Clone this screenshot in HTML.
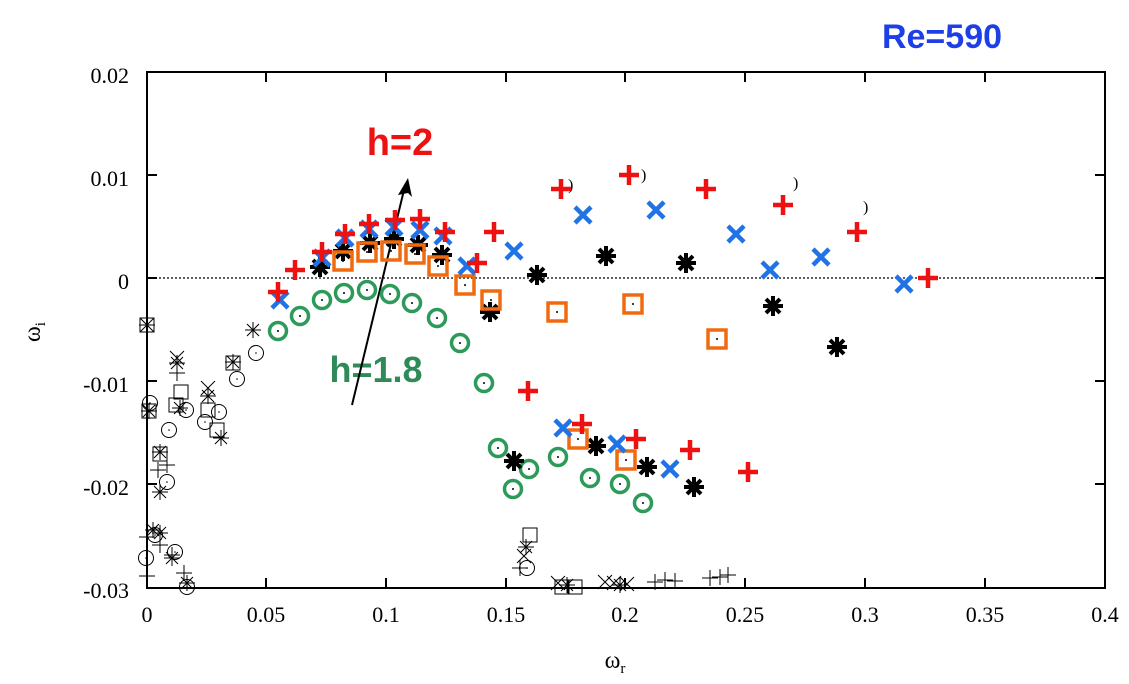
<!DOCTYPE html>
<html><head><style>body{margin:0;background:#fff}svg{display:block}</style></head><body>
<svg width="1129" height="684" xmlns="http://www.w3.org/2000/svg" font-family="Liberation Sans, sans-serif">
<defs>
<g id="rp"><path d="M-10 0H10M0 -10V10" stroke="#ee1111" stroke-width="4.5"/></g>
<g id="bx"><path d="M-8 -8L8 8M-8 8L8 -8" stroke="#1f73e6" stroke-width="4.5"/></g>
<g id="ka"><path d="M-10 0H10M0 -10V10M-7 -7L7 7M-7 7L7 -7" stroke="#000" stroke-width="4"/></g>
<g id="os"><rect x="-9" y="-9" width="18" height="18" fill="none" stroke="#f06a10" stroke-width="3.5"/><circle r="1" fill="#000"/></g>
<g id="gc"><circle r="8.5" fill="none" stroke="#2e9a5a" stroke-width="3.5"/><circle r="1" fill="#000"/></g>
<g id="tp"><path d="M-8 0H8M0 -8V8" stroke="#000" stroke-width="1"/></g>
<g id="tx"><path d="M-7 -7L7 7M-7 7L7 -7" stroke="#000" stroke-width="1"/></g>
<g id="ta"><path d="M-8 0H8M0 -8V8M-6 -6L6 6M-6 6L6 -6" stroke="#000" stroke-width="1"/></g>
<g id="ts"><rect x="-7" y="-7" width="14" height="14" fill="none" stroke="#000" stroke-width="1"/></g>
<g id="tc"><circle r="7.5" fill="none" stroke="#000" stroke-width="1"/><circle r="0.8" fill="#000"/></g>
</defs>
<line x1="147" y1="278" x2="1105" y2="278" stroke="#000" stroke-width="1.2" stroke-dasharray="2,2"/>
<rect x="147" y="72" width="958" height="516" fill="none" stroke="#000" stroke-width="2"/>
<g stroke="#000" stroke-width="2">
<path d="M147 175h10M147 278h10M147 381h10M147 484h10M1105 175h-10M1105 278h-10M1105 381h-10M1105 484h-10"/>
<path d="M266 588v-10M386 588v-10M506 588v-10M625 588v-10M745 588v-10M865 588v-10M985 588v-10M266 72v10M386 72v10M506 72v10M625 72v10M745 72v10M865 72v10M985 72v10"/>
</g>
<g font-size="22" fill="#000" text-anchor="end" font-family="Liberation Serif, serif">
<text x="129" y="83">0.02</text><text x="129" y="186">0.01</text><text x="129" y="289">0</text><text x="129" y="392">-0.01</text><text x="129" y="495">-0.02</text><text x="129" y="598">-0.03</text>
</g>
<g font-size="22" fill="#000" text-anchor="middle" font-family="Liberation Serif, serif">
<text x="147" y="622">0</text><text x="266" y="622">0.05</text><text x="386" y="622">0.1</text><text x="506" y="622">0.15</text><text x="625" y="622">0.2</text><text x="745" y="622">0.25</text><text x="865" y="622">0.3</text><text x="985" y="622">0.35</text><text x="1105" y="622">0.4</text>
</g>
<text x="615" y="668" font-size="24" text-anchor="middle" font-family="Liberation Serif, serif">ω<tspan font-size="15" dy="5">r</tspan></text>
<text transform="translate(40,332) rotate(-90)" font-size="24" text-anchor="middle" font-family="Liberation Serif, serif">ω<tspan font-size="15" dy="5">i</tspan></text>
<text x="942" y="48" font-size="34" font-weight="bold" fill="#1f3fe6" text-anchor="middle">Re=590</text>
<text x="400" y="155" font-size="38" font-weight="bold" fill="#ee1111" text-anchor="middle">h=2</text>
<text x="376" y="382" font-size="36" font-weight="bold" fill="#2e8b57" text-anchor="middle">h=1.8</text>
<line x1="352" y1="405" x2="404" y2="190" stroke="#000" stroke-width="2"/>
<path d="M408 178L398 195L408 193L412 197Z" fill="#000"/>
<g font-size="16" font-family="Liberation Serif, serif"><text x="568" y="190">)</text><text x="641" y="180">)</text><text x="793" y="188">)</text><text x="863" y="212">)</text></g>
<g>
<use href="#ts" x="147" y="325"/><use href="#tx" x="147" y="325"/><use href="#tp" x="147" y="325"/>
<use href="#ta" x="177" y="363"/><use href="#tx" x="177" y="358"/><use href="#tp" x="177" y="373"/>
<use href="#ts" x="181" y="392"/><use href="#ts" x="176" y="405"/><use href="#ta" x="180" y="408"/><use href="#tc" x="186" y="410"/>
<use href="#ts" x="149" y="411"/><use href="#ta" x="149" y="411"/><use href="#tc" x="150" y="403"/>
<use href="#tc" x="169" y="430"/><use href="#ts" x="160" y="454"/><use href="#ta" x="160" y="452"/><use href="#tp" x="158" y="470"/>
<use href="#tc" x="167" y="482"/><use href="#ta" x="160" y="492"/><use href="#tp" x="167" y="465"/>
<use href="#ts" x="208" y="410"/><use href="#ta" x="208" y="396"/><use href="#tx" x="208" y="388"/><use href="#tc" x="219" y="412"/><use href="#tc" x="205" y="422"/>
<use href="#ts" x="217" y="430"/><use href="#ta" x="221" y="438"/>
<use href="#ts" x="233" y="363"/><use href="#ta" x="233" y="362"/><use href="#tc" x="237" y="379"/>
<use href="#ta" x="253" y="330"/><use href="#tc" x="256" y="353"/>
<use href="#ta" x="153" y="530"/><use href="#tp" x="147" y="537"/><use href="#tc" x="155" y="535"/><use href="#ta" x="160" y="533"/><use href="#tp" x="160" y="545"/>
<use href="#tc" x="146" y="558"/><use href="#tp" x="147" y="576"/>
<use href="#tc" x="175" y="552"/><use href="#ta" x="172" y="558"/><use href="#tp" x="172" y="555"/>
<use href="#tp" x="184" y="573"/><use href="#ta" x="187" y="583"/><use href="#tc" x="187" y="587"/>
<use href="#ts" x="530" y="535"/><use href="#ta" x="526" y="547"/><use href="#tx" x="524" y="556"/><use href="#tc" x="527" y="568"/><use href="#tp" x="520" y="568"/>
<use href="#ts" x="562" y="587"/><use href="#ta" x="567" y="585"/><use href="#ts" x="575" y="587"/><use href="#tx" x="558" y="583"/>
<use href="#tx" x="605" y="582"/><use href="#tx" x="614" y="583"/><use href="#ta" x="620" y="585"/><use href="#tx" x="627" y="584"/>
<use href="#tp" x="655" y="582"/><use href="#tp" x="665" y="580"/><use href="#tp" x="675" y="581"/>
<use href="#tp" x="710" y="578"/><use href="#tp" x="720" y="577"/><use href="#tp" x="728" y="575"/>
</g>
<g>
<use href="#gc" x="278" y="331"/><use href="#gc" x="300" y="316"/><use href="#gc" x="322" y="300"/><use href="#gc" x="344" y="293"/><use href="#gc" x="367" y="290"/><use href="#gc" x="390" y="294"/><use href="#gc" x="412" y="303"/><use href="#gc" x="437" y="318"/><use href="#gc" x="460" y="343"/><use href="#gc" x="484" y="383"/><use href="#gc" x="498" y="448"/><use href="#gc" x="513" y="489"/><use href="#gc" x="529" y="469"/><use href="#gc" x="558" y="457"/><use href="#gc" x="590" y="478"/><use href="#gc" x="620" y="484"/><use href="#gc" x="643" y="503"/>
</g>
<g>
<use href="#ka" x="320" y="267"/><use href="#ka" x="343" y="251"/><use href="#ka" x="370" y="243"/><use href="#ka" x="394" y="239"/><use href="#ka" x="418" y="245"/><use href="#ka" x="442" y="255"/><use href="#ka" x="490" y="312"/><use href="#ka" x="514" y="461"/><use href="#ka" x="537" y="275"/><use href="#ka" x="596" y="446"/><use href="#ka" x="606" y="256"/><use href="#ka" x="647" y="467"/><use href="#ka" x="686" y="263"/><use href="#ka" x="694" y="487"/><use href="#ka" x="773" y="306"/><use href="#ka" x="837" y="347"/>
</g>
<g>
<use href="#os" x="343" y="261"/><use href="#os" x="367" y="252"/><use href="#os" x="391" y="251"/><use href="#os" x="415" y="254"/><use href="#os" x="438" y="266"/><use href="#os" x="465" y="285"/><use href="#os" x="491" y="300"/><use href="#os" x="557" y="312"/><use href="#os" x="578" y="439"/><use href="#os" x="633" y="304"/><use href="#os" x="626" y="460"/><use href="#os" x="717" y="339"/>
</g>
<g>
<use href="#bx" x="280" y="300"/><use href="#bx" x="322" y="258"/><use href="#bx" x="345" y="238"/><use href="#bx" x="369" y="229"/><use href="#bx" x="394" y="227"/><use href="#bx" x="420" y="230"/><use href="#bx" x="443" y="236"/><use href="#bx" x="467" y="266"/><use href="#bx" x="514" y="251"/><use href="#bx" x="583" y="215"/><use href="#bx" x="563" y="428"/><use href="#bx" x="617" y="444"/><use href="#bx" x="656" y="210"/><use href="#bx" x="670" y="469"/><use href="#bx" x="736" y="234"/><use href="#bx" x="770" y="270"/><use href="#bx" x="821" y="257"/><use href="#bx" x="904" y="284"/>
</g>
<g>
<use href="#rp" x="278" y="292"/><use href="#rp" x="295" y="270"/><use href="#rp" x="322" y="252"/><use href="#rp" x="345" y="234"/><use href="#rp" x="369" y="224"/><use href="#rp" x="395" y="220"/><use href="#rp" x="420" y="219"/><use href="#rp" x="445" y="232"/><use href="#rp" x="494" y="232"/><use href="#rp" x="477" y="263"/><use href="#rp" x="528" y="391"/><use href="#rp" x="561" y="189"/><use href="#rp" x="582" y="424"/><use href="#rp" x="629" y="175"/><use href="#rp" x="636" y="439"/><use href="#rp" x="690" y="450"/><use href="#rp" x="706" y="189"/><use href="#rp" x="748" y="472"/><use href="#rp" x="783" y="205"/><use href="#rp" x="857" y="232"/><use href="#rp" x="928" y="278"/>
</g>
</svg>
</body></html>
